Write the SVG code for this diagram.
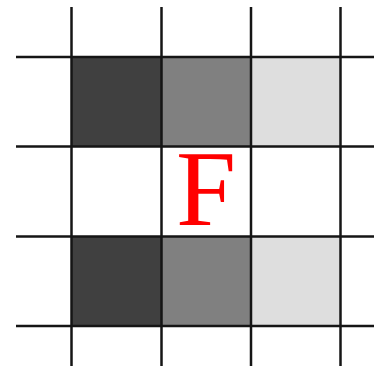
<svg xmlns="http://www.w3.org/2000/svg" width="374" height="366" viewBox="0 0 374 366">
<style>
.l{stroke:#151515;stroke-width:2.5;fill:none}
.d{fill:#404040}.m{fill:#808080}.g{fill:#dedede}
</style>
<rect width="374" height="366" fill="#fff"/>
<g id="cells">
<rect class="d" x="71.5" y="57" width="90" height="89.5"/>
<rect class="m" x="161.5" y="57" width="89.5" height="89.5"/>
<rect class="g" x="251" y="57" width="89.5" height="89.5"/>
<rect class="d" x="71.5" y="236.5" width="90" height="89.5"/>
<rect class="m" x="161.5" y="236.5" width="89.5" height="89.5"/>
<rect class="g" x="251" y="236.5" width="89.5" height="89.5"/>
</g>
<g id="grid">
<line class="l" x1="71.5" y1="7" x2="71.5" y2="366"/>
<line class="l" x1="161.5" y1="7" x2="161.5" y2="366"/>
<line class="l" x1="251" y1="7" x2="251" y2="366"/>
<line class="l" x1="340.5" y1="7" x2="340.5" y2="366"/>
<line class="l" x1="16" y1="57" x2="374" y2="57"/>
<line class="l" x1="16" y1="146.5" x2="374" y2="146.5"/>
<line class="l" x1="16" y1="236.5" x2="374" y2="236.5"/>
<line class="l" x1="16" y1="326" x2="374" y2="326"/>
</g>
<g id="label">
<text x="206" y="225" text-anchor="middle" font-family="Liberation Serif, serif" font-size="108" fill="#ff0000">F</text>
</g>
</svg>
